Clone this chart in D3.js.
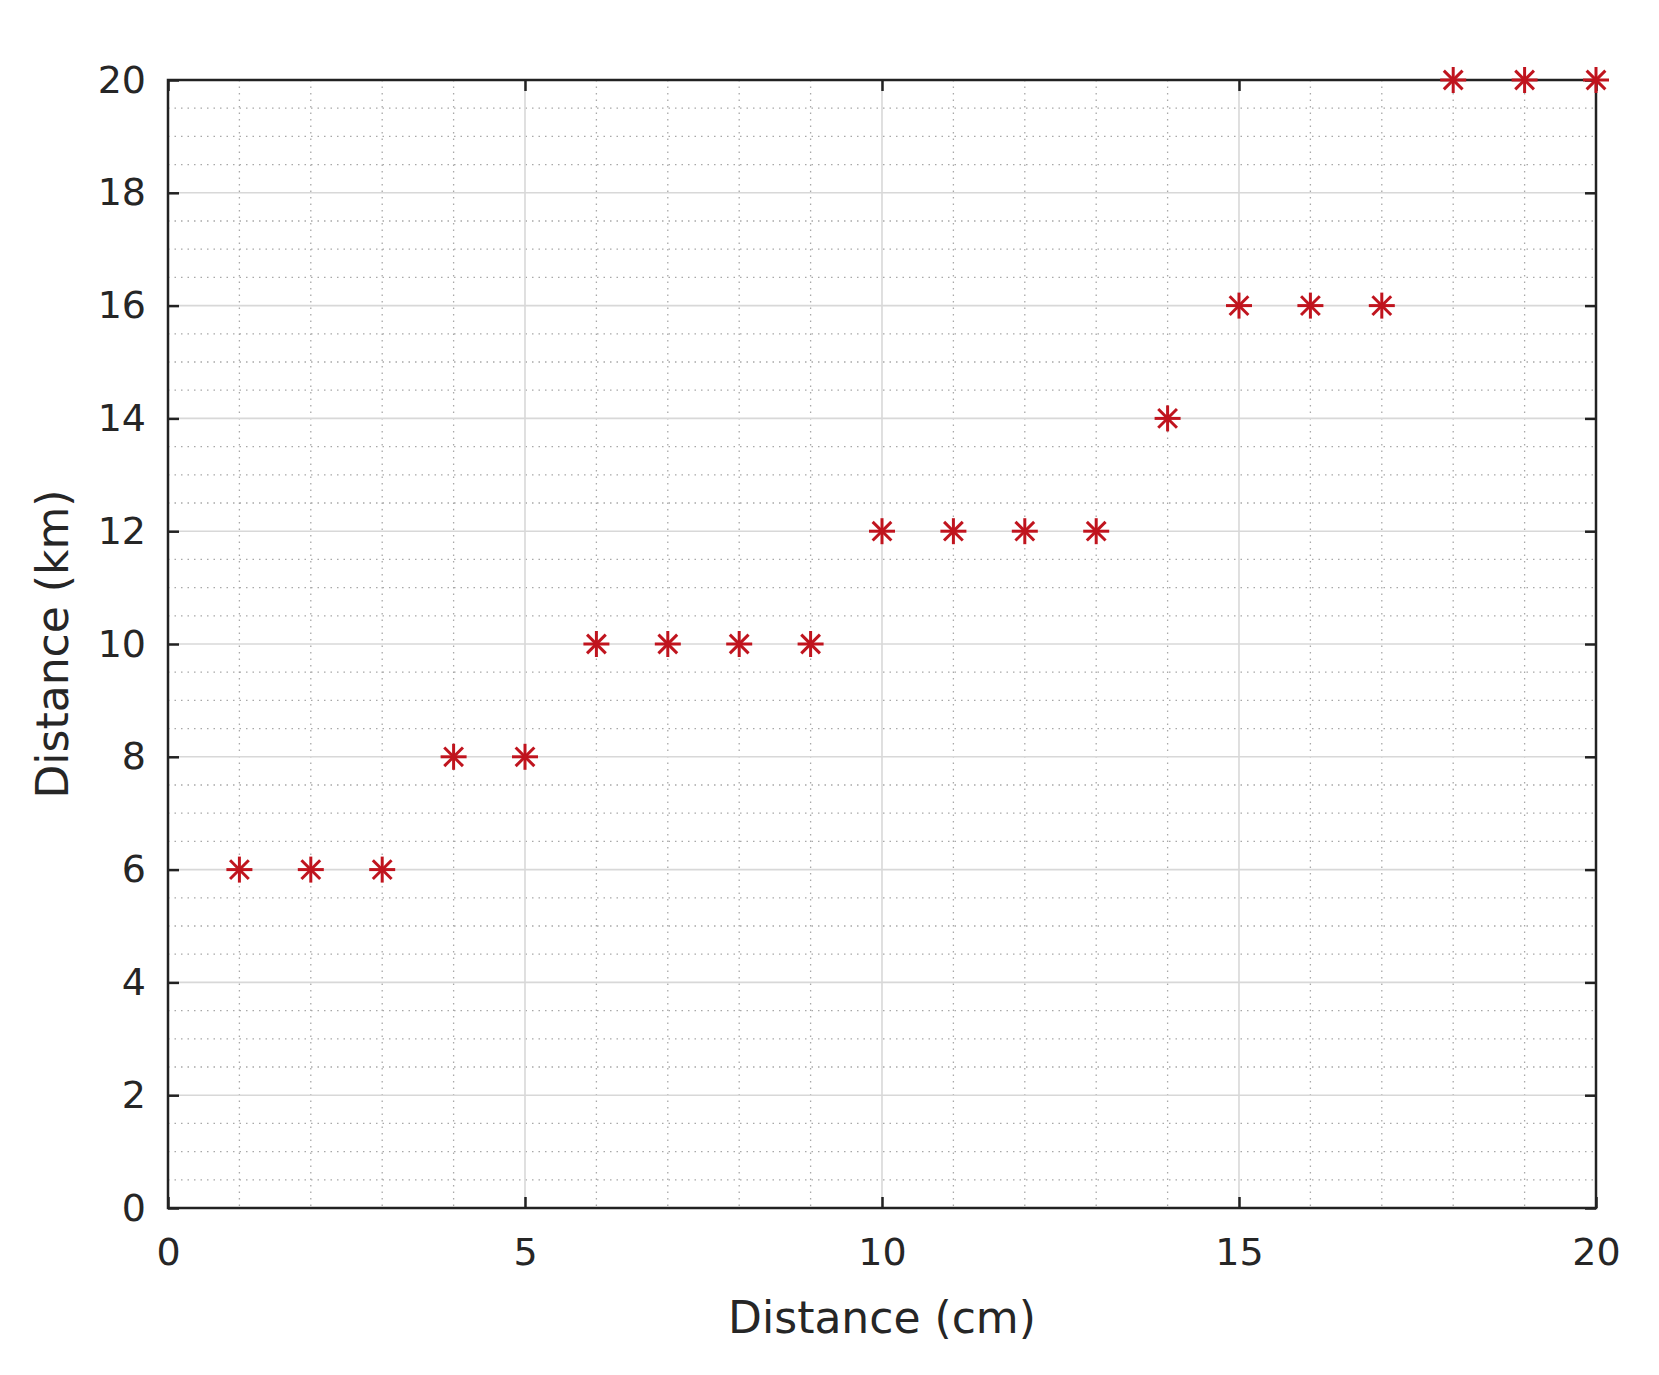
<!DOCTYPE html>
<html><head><meta charset="utf-8">
<script src="https://cdn.jsdelivr.net/npm/d3@7"></script>
<style>body{margin:0;background:#fff}svg{display:block}</style>
</head><body><div id="c"></div>
<script>
const xValues=[1,2,3,4,5,6,7,8,9,10,11,12,13,14,15,16,17,18,19,20];
const yValues=[6,6,6,8,8,10,10,10,10,12,12,12,12,14,16,16,16,20,20,20];
const xTicks=[0,5,10,15,20];
const yTicks=[0,2,4,6,8,10,12,14,16,18,20];
const xLabel="Distance (cm)", yLabel="Distance (km)";

const W=1659,H=1375,L=168,R=1596,T=80,B=1208;
const svg=d3.select("#c").append("svg").attr("width",W).attr("height",H);
const x=d3.scaleLinear().domain([0,20]).range([L,R]);
const y=d3.scaleLinear().domain([0,20]).range([B,T]);
const g=svg.append("g");
g.selectAll(".mx").data(d3.range(0,21,1).filter(v=>v%5)).join("line")
 .attr("x1",d=>x(d)).attr("x2",d=>x(d)).attr("y1",T).attr("y2",B)
 .attr("stroke","#a8a8a8").attr("stroke-width",1.3).attr("stroke-dasharray","1.5,5");
g.selectAll(".my").data(d3.range(0,20.01,0.5).filter(v=>v%2)).join("line")
 .attr("y1",d=>y(d)).attr("y2",d=>y(d)).attr("x1",L).attr("x2",R)
 .attr("stroke","#a8a8a8").attr("stroke-width",1.3).attr("stroke-dasharray","1.5,5");
g.selectAll(".Mx").data(xTicks).join("line")
 .attr("x1",d=>x(d)).attr("x2",d=>x(d)).attr("y1",T).attr("y2",B)
 .attr("stroke","#d8d8d8").attr("stroke-width",1.6);
g.selectAll(".My").data(yTicks).join("line")
 .attr("y1",d=>y(d)).attr("y2",d=>y(d)).attr("x1",L).attr("x2",R)
 .attr("stroke","#d8d8d8").attr("stroke-width",1.6);
const st=sel=>{sel.select(".domain").remove();sel.selectAll("line").attr("stroke","#222").attr("stroke-width",2.5);
 sel.selectAll("text").attr("fill","#262626").style("font-family","DejaVu Sans").style("font-size","38px");};
svg.append("g").attr("transform",`translate(0,${B})`).call(d3.axisBottom(x).tickValues(xTicks).tickSize(-11).tickPadding(30)).call(st);
svg.append("g").attr("transform",`translate(0,${T})`).call(d3.axisTop(x).tickValues(xTicks).tickSize(-11).tickFormat("")).call(st);
svg.append("g").attr("transform",`translate(${L},0)`).call(d3.axisLeft(y).tickValues(yTicks).tickSize(-11).tickPadding(22)).call(st);
svg.append("g").attr("transform",`translate(${R},0)`).call(d3.axisRight(y).tickValues(yTicks).tickSize(-11).tickFormat("")).call(st);
svg.append("rect").attr("x",L).attr("y",T).attr("width",R-L).attr("height",B-T).attr("fill","none").attr("stroke","#222").attr("stroke-width",2.5);
const s=13,d=s*0.72;
const m=svg.append("g").selectAll("g").data(xValues.map((v,i)=>[v,yValues[i]])).join("g")
 .attr("transform",p=>`translate(${x(p[0])},${y(p[1])})`);
[[0,-s,0,s],[-s,0,s,0],[-d,-d,d,d],[-d,d,d,-d]].forEach(c=>
 m.append("line").attr("x1",c[0]).attr("y1",c[1]).attr("x2",c[2]).attr("y2",c[3]).attr("stroke","#c0141e").attr("stroke-width",3));
svg.append("text").attr("x",(L+R)/2).attr("y",1333).attr("text-anchor","middle").attr("fill","#262626")
 .style("font-family","DejaVu Sans").style("font-size","44px").text(xLabel);
svg.append("text").attr("transform",`translate(68,${(T+B)/2}) rotate(-90)`).attr("text-anchor","middle").attr("fill","#262626")
 .style("font-family","DejaVu Sans").style("font-size","44px").text(yLabel);
</script></body></html>
